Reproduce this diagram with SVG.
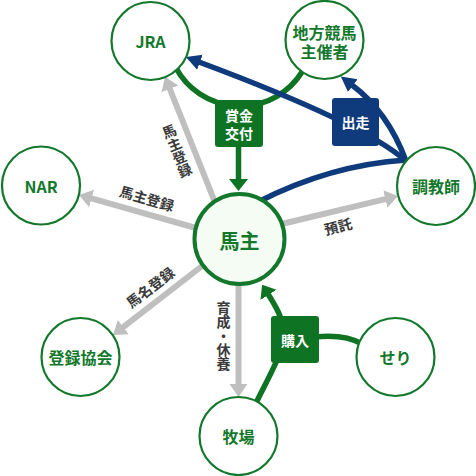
<svg xmlns="http://www.w3.org/2000/svg" width="476" height="476" viewBox="0 0 476 476">
<style>
.node circle{fill:#fff;stroke:#13782b;stroke-width:2.2}
.node text{font-family:"Noto Sans CJK JP",sans-serif;font-weight:700;font-size:16px;fill:#13782b;text-anchor:middle;dominant-baseline:central}
.gray{stroke:#bfbfbf;stroke-width:6;fill:none}
.green{stroke:#0f7324;stroke-width:5.5;fill:none}
.blue{stroke:#0f3a7c;stroke-width:5.5;fill:none}
.lbl{font-family:"Noto Sans CJK JP",sans-serif;font-weight:700;font-size:14px;fill:#3a3a3a;text-anchor:middle;dominant-baseline:central}
.vert{writing-mode:vertical-rl}
.box text{font-family:"Noto Sans CJK JP",sans-serif;font-weight:700;font-size:14px;fill:#fff;text-anchor:middle;dominant-baseline:central}
</style>
<defs>
<marker id="ag" markerUnits="userSpaceOnUse" viewBox="0 0 14 20" markerWidth="14" markerHeight="20" refX="1" refY="10" orient="auto"><path d="M0,1 L13,10 L0,19 Z" fill="#bfbfbf"/></marker>
<marker id="agr" markerUnits="userSpaceOnUse" viewBox="0 0 14 20" markerWidth="14" markerHeight="20" refX="1" refY="10" orient="auto"><path d="M0,0.5 L12,10 L0,19.5 Z" fill="#0f7324"/></marker>
<marker id="abl" markerUnits="userSpaceOnUse" viewBox="0 0 16 18" markerWidth="16" markerHeight="18" refX="1" refY="9" orient="auto"><path d="M0,1 L15,9 L0,17 Z" fill="#0f3a7c"/></marker>
</defs>
<g id="connectors">
<line class="gray" x1="222" y1="220" x2="169.5" y2="88" marker-end="url(#ag)"/>
<line class="gray" x1="210" y1="232" x2="90.6" y2="198.2" marker-end="url(#ag)"/>
<line class="gray" x1="265" y1="228" x2="386.3" y2="198.8" marker-end="url(#ag)"/>
<line class="gray" x1="215" y1="256" x2="122.5" y2="327.7" marker-end="url(#ag)"/>
<line class="gray" x1="238.5" y1="270" x2="238.5" y2="385" marker-end="url(#ag)"/>
<path class="green" d="M176,68 A73,73 0 0 0 302,72"/>
<line class="green" x1="238.5" y1="140" x2="238.5" y2="180" marker-end="url(#agr)"/>
<path class="green" d="M255,405 C268,378 285,350 284,333 C283,318 275,305 268,294" marker-end="url(#agr)"/>
<path class="green" d="M315,337 Q345,334 362,344"/>
<path class="blue" d="M258,202 Q330,165 406,160"/>
<path class="blue" d="M406,161 Q365,124 199,62" marker-end="url(#abl)"/>
<path class="blue" d="M406,161 Q388,112 352,85" marker-end="url(#abl)"/>
<g class="box">
<rect x="215" y="100" width="48" height="47" rx="3" fill="#0f7324"/>
<text x="239" y="115"><tspan x="239" y="115">賞金</tspan><tspan x="239" y="133">交付</tspan></text>
<rect x="271" y="316" width="48" height="47" rx="3" fill="#0f7324"/>
<text x="295" y="339.5">購入</text>
<rect x="332" y="98" width="47" height="48" rx="3" fill="#0f3a7c"/>
<text x="355.5" y="122">出走</text>
</g>
<text class="lbl vert" x="0" y="0" transform="translate(177,151) rotate(-22)">馬主登録</text>
<text class="lbl" transform="translate(147,198) rotate(16)">馬主登録</text>
<text class="lbl" transform="translate(338,226) rotate(-14)">預託</text>
<text class="lbl" transform="translate(150,287) rotate(-37)">馬名登録</text>
<text class="lbl vert" x="223.5" y="336">育成・休養</text>
</g>
<g id="node-jra" class="node"><circle cx="150.5" cy="41" r="39"/><text x="150.5" y="41">JRA</text></g>
<g id="node-chiho" class="node"><circle cx="324.5" cy="40" r="39"/><text x="324.5" y="32"><tspan x="324.5" y="32">地方競馬</tspan><tspan x="324.5" y="51">主催者</tspan></text></g>
<g id="node-nar" class="node"><circle cx="41" cy="185.5" r="39"/><text x="41" y="185.5">NAR</text></g>
<g id="node-chokyoshi" class="node"><circle cx="436" cy="186" r="39"/><text x="436" y="186">調教師</text></g>
<g id="node-banushi" class="node"><circle cx="239.5" cy="239" r="45" style="fill:#f4fcf4;stroke-width:4"/><text x="239.5" y="240" style="font-size:20px">馬主</text></g>
<g id="node-toroku" class="node"><circle cx="80.5" cy="357" r="39"/><text x="80.5" y="357">登録協会</text></g>
<g id="node-bokujo" class="node"><circle cx="238.5" cy="436" r="39"/><text x="238.5" y="436">牧場</text></g>
<g id="node-seri" class="node"><circle cx="395.5" cy="357" r="39"/><text x="395.5" y="357">せり</text></g>
</svg>
